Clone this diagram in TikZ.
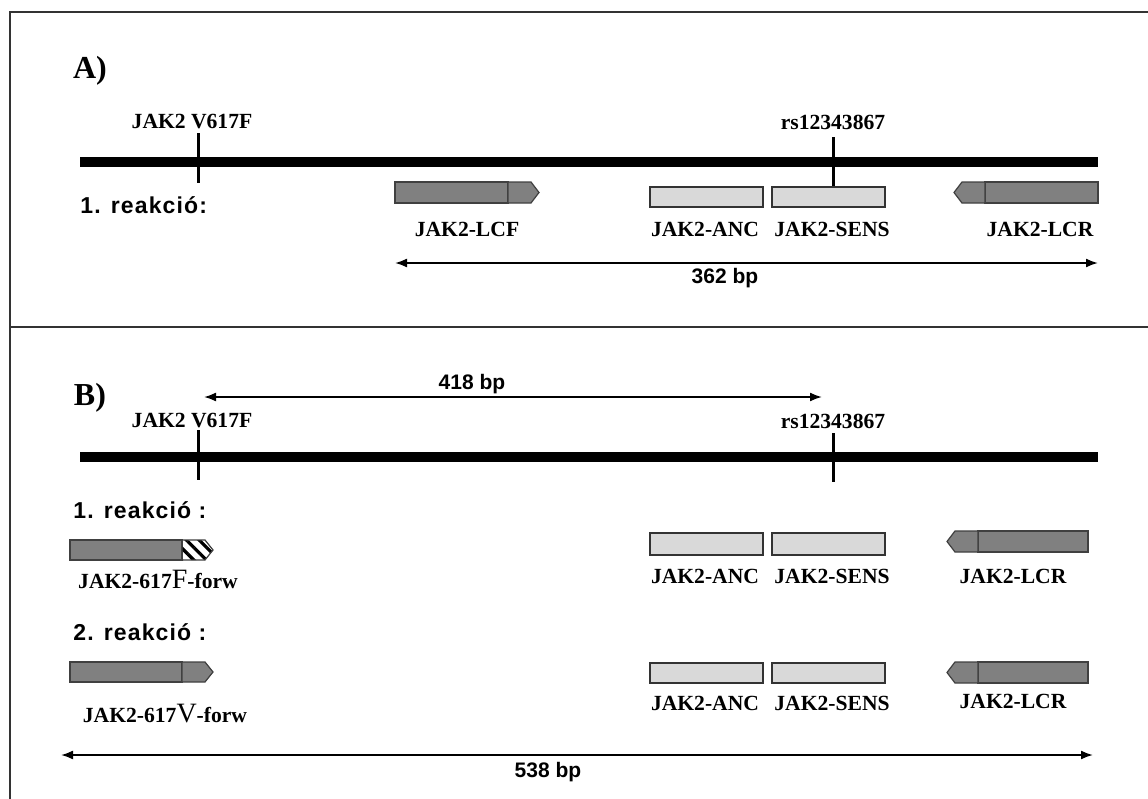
\documentclass[tikz,border=0pt]{standalone}
\usepackage{fontspec}
\setmainfont{Liberation Serif}
\newfontfamily\bpfont{Liberation Sans}
\newfontfamily\reakfont[LetterSpace=5]{Liberation Sans}
\usetikzlibrary{arrows.meta,positioning,calc,patterns.meta}
\definecolor{primgray}{RGB}{128,128,128}
\definecolor{probegray}{RGB}{217,217,217}

\begin{document}
\begin{tikzpicture}[x=0.5pt, y=-0.5pt,
  frame/.style={line width=1pt, black!80},
  dna/.style={line width=5pt},
  snp/.style={line width=1.5pt},
  primer/.style={draw=black!75, line width=0.6pt, fill=primgray, inner sep=0pt, outer sep=0pt,
    minimum width=56.5pt, minimum height=10.5pt, anchor=north west},
  probe/.style={draw=black!80, line width=0.6pt, fill=probegray, inner sep=0pt, outer sep=0pt,
    minimum width=56.5pt, minimum height=10pt, anchor=north west},
  tip/.style={draw=black!75, line width=0.6pt, fill=primgray},
  hatchtip/.style={draw=black!75, line width=0.6pt, fill=white,
    pattern={Lines[angle=-45, distance=4.5pt, line width=1.6pt]}},
  lbl/.style={font=\fontsize{10.8}{12}\selectfont\bfseries, inner sep=0pt, anchor=base},
  panel/.style={font=\fontsize{16}{18}\selectfont\bfseries, inner sep=0pt, anchor=base},
  reak/.style={font=\reakfont\fontsize{11.5}{13}\selectfont\bfseries, inner sep=0pt, anchor=base west},
  bp/.style={font=\bpfont\fontsize{10.5}{12}\selectfont\bfseries, inner sep=0pt, anchor=base},
  span/.style={{Latex[length=6pt,width=4.5pt]}-{Latex[length=6pt,width=4.5pt]}, line width=0.9pt}
]
\useasboundingbox (0,0) rectangle (1148,799);

\draw[frame] (1148,12) -- (10,12) -- (10,799);
\draw[frame] (10,327) -- (1148,327);

% A)
\node[panel] (panA) at (90,78) {A)};
\coordinate (dnaAl) at (80,162);
\coordinate (dnaAr) at (1098,162);
\draw[dna] (dnaAl) -- (dnaAr);

\node[lbl] (vfA) at (192,128) {JAK2 V617F};
\draw[snp] (198,133) -- (198,183);
\node[lbl] (rsA) at (833,129) {rs12343867};
\draw[snp] (833,137) -- (833,187);

\node[reak] (reakA) at (80,213) {1. reakció:};

\node[primer] (lcfA) at (395,182) {};
\draw[tip] (lcfA.north east) -- ++(23,0) -- ($(lcfA.east)+(31,0)$) -- ($(lcfA.south east)+(23,0)$) -- (lcfA.south east) -- cycle;
\node[probe] (ancA) at (650,187) {};
\node[probe] (sensA) at (772,187) {};
\node[primer] (lcrA) at (985,182) {};
\draw[tip] (lcrA.north west) -- ++(-23,0) -- ($(lcrA.west)+(-31,0)$) -- ($(lcrA.south west)+(-23,0)$) -- (lcrA.south west) -- cycle;

\node[lbl] (lcfAtxt) at (467,236) {JAK2-LCF};
\node[lbl] (ancAtxt) at (705,236) {JAK2-ANC};
\node[lbl] (sensAtxt) at (832,236) {JAK2-SENS};
\node[lbl] (lcrAtxt) at (1040,236) {JAK2-LCR};

\coordinate (bpAl) at (395,263);
\coordinate (bpAr) at (1098,263);
\draw[span] (bpAl) -- (bpAr);
\node[bp] (bpA) at (725,283) {362 bp};

% B)
\node[panel] (panB) at (90,405) {B)};
\coordinate (bp418l) at (204,397);
\coordinate (bp418r) at (822,397);
\draw[span] (bp418l) -- (bp418r);
\node[bp] (bp418) at (472,389) {418 bp};

\coordinate (dnaBl) at (80,457);
\coordinate (dnaBr) at (1098,457);
\draw[dna] (dnaBl) -- (dnaBr);

\node[lbl] (vfB) at (192,427) {JAK2 V617F};
\draw[snp] (198,430) -- (198,480);
\node[lbl] (rsB) at (833,428) {rs12343867};
\draw[snp] (833,433) -- (833,482);

\node[reak] (reakB1) at (73,518) {1. reakció :};

\node[primer, minimum width=56pt, minimum height=10pt] (fwdF) at (70,540) {};
\draw[hatchtip] (fwdF.north east) -- ++(23,0) -- ($(fwdF.east)+(31,0)$) -- ($(fwdF.south east)+(23,0)$) -- (fwdF.south east) -- cycle;
\node[probe, minimum height=11pt] (ancB1) at (650,533) {};
\node[probe, minimum height=11pt] (sensB1) at (772,533) {};
\node[primer, minimum width=55pt] (lcrB1) at (978,531) {};
\draw[tip] (lcrB1.north west) -- ++(-23,0) -- ($(lcrB1.west)+(-31,0)$) -- ($(lcrB1.south west)+(-23,0)$) -- (lcrB1.south west) -- cycle;

\node[lbl] (fwdFtxt) at (158,588) {JAK2-617{\fontsize{14}{14}\selectfont\mdseries F}-forw};
\node[lbl] (ancB1txt) at (705,583) {JAK2-ANC};
\node[lbl] (sensB1txt) at (832,583) {JAK2-SENS};
\node[lbl] (lcrB1txt) at (1013,583) {JAK2-LCR};

\node[reak] (reakB2) at (73,640) {2. reakció :};

\node[primer, minimum width=56pt, minimum height=10pt] (fwdV) at (70,662) {};
\draw[tip] (fwdV.north east) -- ++(23,0) -- ($(fwdV.east)+(31,0)$) -- ($(fwdV.south east)+(23,0)$) -- (fwdV.south east) -- cycle;
\node[probe] (ancB2) at (650,663) {};
\node[probe] (sensB2) at (772,663) {};
\node[primer, minimum width=55pt] (lcrB2) at (978,662) {};
\draw[tip] (lcrB2.north west) -- ++(-23,0) -- ($(lcrB2.west)+(-31,0)$) -- ($(lcrB2.south west)+(-23,0)$) -- (lcrB2.south west) -- cycle;

\node[lbl] (fwdVtxt) at (165,722) {JAK2-617{\fontsize{14}{14}\selectfont\mdseries V}-forw};
\node[lbl] (ancB2txt) at (705,710) {JAK2-ANC};
\node[lbl] (sensB2txt) at (832,710) {JAK2-SENS};
\node[lbl] (lcrB2txt) at (1013,708) {JAK2-LCR};

\coordinate (bp538l) at (61,755);
\coordinate (bp538r) at (1093,755);
\draw[span] (bp538l) -- (bp538r);
\node[bp] (bp538) at (548,777) {538 bp};

\end{tikzpicture}
\end{document}
